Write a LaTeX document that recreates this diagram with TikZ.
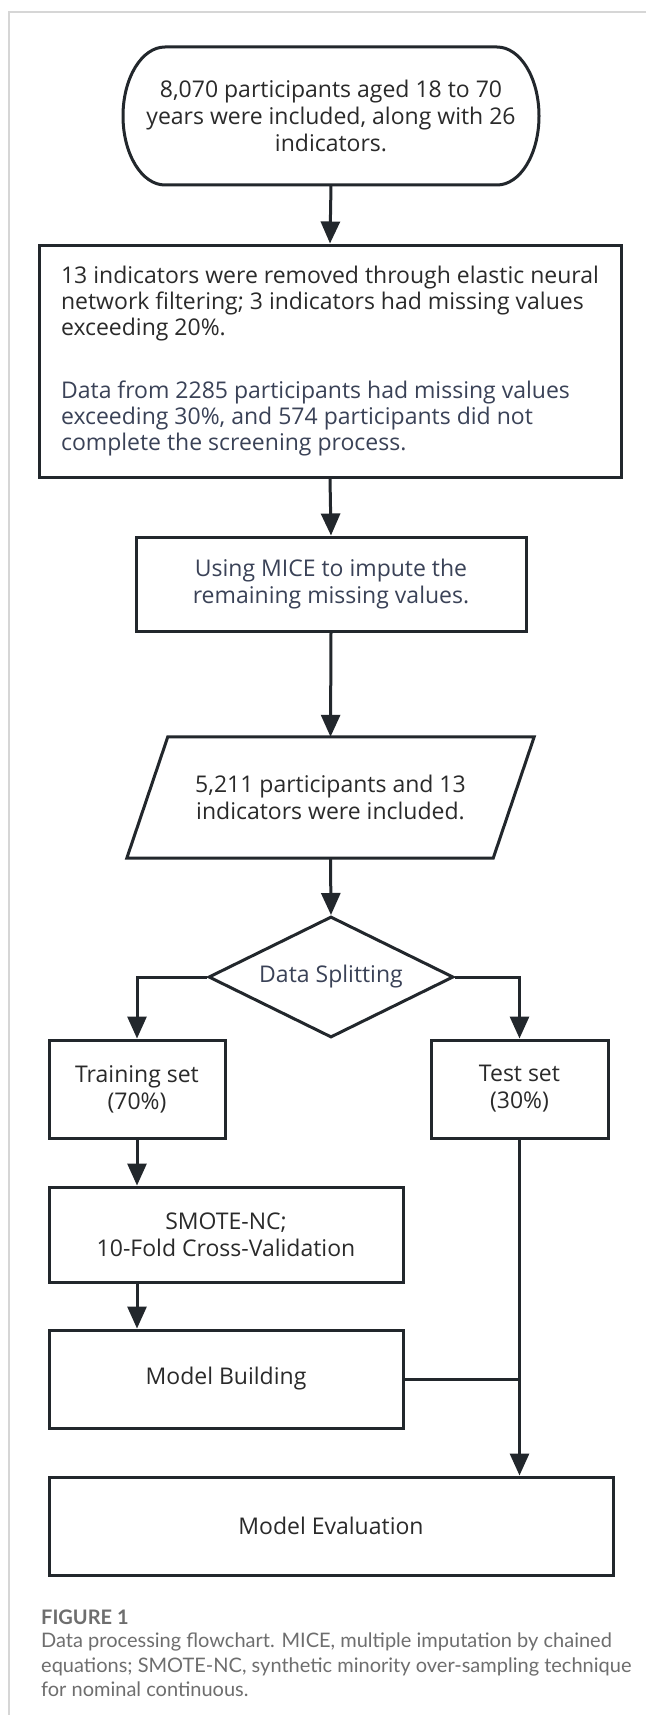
\documentclass[tikz,border=0pt]{standalone}
\usepackage{fontspec}
\setmainfont{Open Sans}
\newfontfamily\capfont{Lato}
\usetikzlibrary{arrows.meta,shapes.geometric,calc}
\definecolor{ink}{HTML}{2A2A2A}
\definecolor{slate}{HTML}{3A4257}
\definecolor{edge}{HTML}{22272C}
\definecolor{capgray}{HTML}{6E6E6E}
\definecolor{framegray}{HTML}{D6D6D6}
\begin{document}
\begin{tikzpicture}[x=1pt,y=-1pt,
  boxline/.style={draw=edge, line width=3pt},
  procbox/.style={boxline, rectangle, inner sep=0pt, align=center, text=ink, font=\fontsize{23}{27}\selectfont},
  plain/.style={inner sep=0pt, align=center, text=ink, font=\fontsize{23}{27}\selectfont},
  arr/.style={draw=edge, line width=3pt, -{Triangle[length=22pt,width=19pt]}},
  conn/.style={draw=edge, line width=3pt},
]
\useasboundingbox (0,0) rectangle (646,1715);
\fill[white] (0,0) rectangle (646,1715);
\draw[framegray, line width=1.2pt] (646,12) -- (9,12) -- (9,1715);

% start terminator
\node[plain, minimum width=416pt, minimum height=138pt] (start) at (331,116)
  {8,070 participants aged 18 to 70\\years were included, along with 26\\indicators.};
\draw[boxline] (165,47) -- (497,47) .. controls (520.2,47) and (539,77.9) .. (539,116)
  .. controls (539,154.1) and (520.2,185) .. (497,185) -- (165,185)
  .. controls (141.8,185) and (123,154.1) .. (123,116)
  .. controls (123,77.9) and (141.8,47) .. (165,47) -- cycle;

% filtering box
\node[procbox, minimum width=582pt, minimum height=232pt, align=left, font=\fontsize{23}{26}\selectfont] (filter) at (330,361)
  {13 indicators were removed through elastic neural\\
   network filtering; 3 indicators had missing values\\
   exceeding 20\%.\\[37pt]
   \textcolor{slate}{Data from 2285 participants had missing values}\\
   \textcolor{slate}{exceeding 30\%, and 574 participants did not}\\
   \textcolor{slate}{complete the screening process.}};

% MICE
\node[procbox, minimum width=390pt, minimum height=94pt, text=slate] (mice) at (331,584)
  {Using MICE to impute the\\remaining missing values.};

% data parallelogram
\node[plain, minimum width=366pt, minimum height=121pt] (data) at (330.5,797.5)
  {5,211 participants and 13\\indicators were included.};
\draw[boxline] ($(data.north west)+(20.5,0)$) -- ($(data.north east)+(20.5,0)$)
  -- ($(data.south east)+(-20.5,0)$) -- ($(data.south west)+(-20.5,0)$) -- cycle;

% split diamond
\node[diamond, aspect=2.4, boxline, minimum width=245pt, minimum height=121pt, inner sep=0pt, text=slate,
  font=\fontsize{23}{27}\selectfont] (split) at (331,977) {Data Splitting};

\node[procbox, minimum width=176pt, minimum height=98pt] (train) at (137,1089) {Training set\\(70\%)};
\node[procbox, minimum width=177pt, minimum height=98pt] (test) at (519.5,1089) {Test set\\(30\%)};
\node[procbox, minimum width=354pt, minimum height=95pt] (smote) at (226,1234.5) {SMOTE-NC;\\10-Fold Cross-Validation};
\node[procbox, minimum width=354pt, minimum height=98pt] (build) at (226,1379) {Model Building};
\node[procbox, minimum width=564pt, minimum height=98pt] (eval) at (331,1526) {Model Evaluation};

% connectors
\draw[arr] (start.south) -- (filter.north);
\draw[arr] (filter.south) -- (mice.north);
\draw[arr] (mice.south) -- (data.north);
\draw[arr] (data.south) -- (split.north);
\draw[arr] (split.west) -| (train.north);
\draw[arr] (split.east) -| (test.north);
\draw[arr] (train.south) -- (train.south |- smote.north);
\draw[arr] (train.south |- smote.south) -- (train.south |- build.north);
\draw[arr] (test.south) -- (test.south |- eval.north);
\draw[conn] (build.east) -- (build.east -| test.south);

% caption
\node[anchor=west, inner sep=0pt, font=\capfont\bfseries\fontsize{20}{24.5}\selectfont, text=capgray] (figlabel) at (41,1617) {FIGURE 1};
\node[anchor=west, inner sep=0pt, align=left, font=\capfont\fontsize{20}{24.5}\selectfont, text=capgray] (caption) at (41,1665)
  {Data processing flowchart. MICE, multiple imputation by chained\\
   equations; SMOTE-NC, synthetic minority over-sampling technique\\
   for nominal continuous.};
\end{tikzpicture}
\end{document}
